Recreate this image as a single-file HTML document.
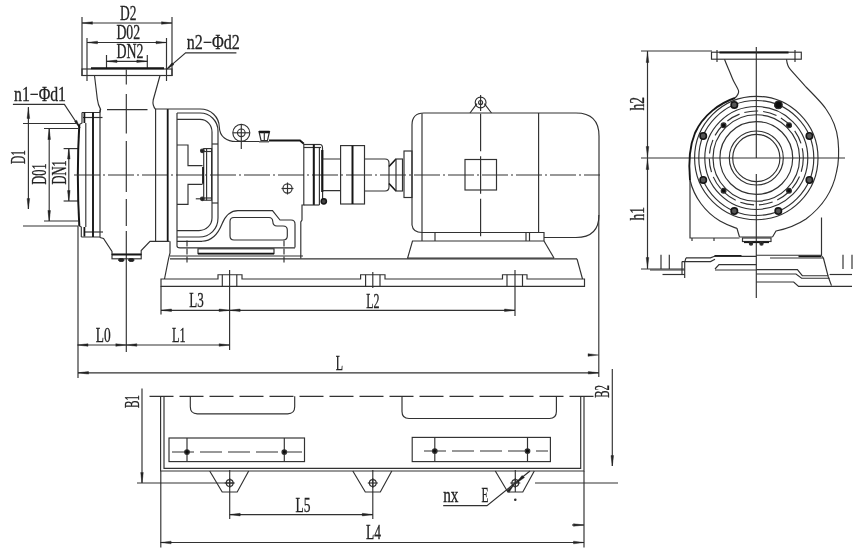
<!DOCTYPE html>
<html><head><meta charset="utf-8"><title>pump</title>
<style>
html,body{margin:0;padding:0;background:#fff;overflow:hidden}
svg{display:block;position:absolute;left:0;top:0}
svg line,svg path,svg rect,svg circle{stroke:#303030;fill:none;stroke-width:1.15}
svg .ar{fill:#222;stroke:#222;stroke-width:.4}
svg text{font-family:"Liberation Serif",serif;fill:#222;stroke:#222;stroke-width:.3}
</style></head><body>
<svg width="864" height="558" viewBox="0 0 864 558">
<defs><filter id="bl" x="0" y="0" width="864" height="558" filterUnits="userSpaceOnUse"><feGaussianBlur stdDeviation="0.45"/></filter></defs>
<rect x="0" y="0" width="864" height="558" style="fill:#fff;stroke:none"/>
<g filter="url(#bl)">
<g id="side">
<line x1="82" y1="17" x2="82" y2="76"/>
<line x1="172" y1="17" x2="172" y2="76"/>
<line x1="82" y1="23" x2="172" y2="23"/>
<polygon class="ar" points="82.0,23.0 92.5,21.7 92.5,24.3"/>
<polygon class="ar" points="172.0,23.0 161.5,21.7 161.5,24.3"/>
<line x1="87" y1="38" x2="87" y2="81"/>
<line x1="166.5" y1="38" x2="166.5" y2="81"/>
<line x1="87" y1="42.5" x2="166.5" y2="42.5"/>
<polygon class="ar" points="87.0,42.5 97.5,41.2 97.5,43.8"/>
<polygon class="ar" points="166.5,42.5 156.0,41.2 156.0,43.8"/>
<line x1="106.5" y1="55" x2="106.5" y2="68"/>
<line x1="147.3" y1="55" x2="147.3" y2="68"/>
<line x1="106.5" y1="61.3" x2="147.3" y2="61.3"/>
<polygon class="ar" points="106.5,61.3 117.0,60.0 117.0,62.6"/>
<polygon class="ar" points="147.3,61.3 136.8,60.0 136.8,62.6"/>
<path d="M236.4,52.8 H185.6 L166.5,69.4"/>
<polygon class="ar" points="166.5,69.4 172,62.8 174,64.6"/>
<rect x="82" y="69" width="90" height="6.5"/>
<line x1="91" y1="68.2" x2="164" y2="68.2" style="stroke-width:2;stroke:#151515"/>
<path d="M94.5,75.5 L97.3,99 Q98,105 100.6,109.4 L100,112.5"/>
<path d="M160,75.5 L153.2,100 Q152.2,105.5 155.6,109.3"/>
<line x1="107" y1="109.6" x2="147.5" y2="109.6" style="stroke-width:1.3"/>
<line x1="126.3" y1="69.4" x2="126.3" y2="84.5"/>
<line x1="126.3" y1="94" x2="126.3" y2="133.5"/>
<line x1="126.3" y1="141" x2="126.3" y2="192"/>
<line x1="126.3" y1="199" x2="126.3" y2="226"/>
<line x1="126.3" y1="231" x2="126.3" y2="352"/>
<path d="M12.9,104.4 H64.4 L80,128"/>
<polygon class="ar" points="80,128 74.5,121.5 76.7,120.2"/>
<line x1="28.4" y1="107" x2="28.4" y2="209"/>
<polygon class="ar" points="28.4,108.0 27.1,118.5 29.7,118.5"/>
<polygon class="ar" points="28.4,209.0 27.1,198.5 29.7,198.5"/>
<line x1="23" y1="123.5" x2="77" y2="123.5"/>
<line x1="23" y1="226" x2="78" y2="226"/>
<line x1="49.2" y1="129" x2="49.2" y2="221"/>
<polygon class="ar" points="49.2,129.0 47.9,139.5 50.5,139.5"/>
<polygon class="ar" points="49.2,221.0 47.9,210.5 50.5,210.5"/>
<line x1="44" y1="128.5" x2="78" y2="128.5"/>
<line x1="44" y1="221" x2="78" y2="221"/>
<line x1="68.8" y1="148.5" x2="68.8" y2="201"/>
<polygon class="ar" points="68.8,148.5 67.5,159.0 70.1,159.0"/>
<polygon class="ar" points="68.8,201.0 67.5,190.5 70.1,190.5"/>
<line x1="63.6" y1="148.6" x2="78" y2="148.6"/>
<line x1="63.6" y1="201" x2="78" y2="201"/>
<path d="M82,112.5 H100 M81.3,237 H100"/>
<path d="M82,112.5 V123 L79.3,124.4 M79.3,226 L81.3,227 V237"/>
<path d="M79.3,124.4 Q76.4,175 79.3,226" style="stroke-width:2;stroke:#151515"/>
<line x1="83" y1="117.5" x2="102.5" y2="117.5"/>
<line x1="85" y1="232" x2="103" y2="232"/>
<line x1="84.4" y1="112.5" x2="84.4" y2="123" style="stroke-width:1.8;stroke:#151515"/>
<line x1="84.4" y1="227" x2="84.4" y2="236.5" style="stroke-width:1.8;stroke:#151515"/>
<line x1="85.8" y1="123" x2="85.8" y2="227"/>
<line x1="93" y1="112.5" x2="93" y2="237" style="stroke-width:1.9;stroke:#151515"/>
<line x1="100" y1="109.5" x2="100" y2="237.5"/>
<line x1="74" y1="175" x2="600" y2="175" style="stroke-dasharray:26 3 2 3"/>
<path d="M100,237.5 L103.5,238.5 L112,251.5 V254.4 H141.2 V250.6 L150,241.3 H169.5"/>
<rect x="112" y="254.4" width="29.2" height="4.4"/>
<line x1="112" y1="254.6" x2="141.2" y2="254.6" style="stroke-width:1.8;stroke:#151515"/>
<ellipse cx="121.3" cy="260" rx="2.8" ry="1.5" style="fill:#222;stroke:#222"/>
<ellipse cx="131.3" cy="260" rx="2.8" ry="1.5" style="fill:#222;stroke:#222"/>
<line x1="155.6" y1="109" x2="155.6" y2="241.3"/>
<line x1="167.7" y1="109" x2="167.7" y2="241" style="stroke-width:1.8;stroke:#151515"/>
<line x1="78" y1="226" x2="78" y2="378"/>
</g>
<g id="frame">
<path d="M155.6,109 H200 C211,109 219,117 219.3,127 C219.6,137 227,141.5 236,141.5 H259"/>
<path d="M269,140.6 H300 L303.8,143.8" style="stroke-width:2;stroke:#151515"/>
<line x1="259" y1="141.8" x2="269" y2="141.8"/>
<circle cx="241.3" cy="132.8" r="8.5"/>
<circle cx="241.3" cy="132.8" r="3.8"/>
<line x1="241.3" y1="124" x2="241.3" y2="149"/>
<line x1="233" y1="132.8" x2="249.5" y2="132.8"/>
<path d="M259,131.5 H269.5 L267.5,140.5 H261 Z" style="stroke-width:1.2"/>
<line x1="259" y1="132" x2="269.5" y2="132" style="stroke-width:2.5;stroke:#151515"/>
<line x1="264.3" y1="132" x2="264.3" y2="140"/>
<line x1="177" y1="113" x2="177" y2="246"/>
<path d="M177,113 H200 C210,113 218,121 218,131 V218 C218,229 210,237 199,237 H177"/>
<path d="M177,119.4 H200 C207,119.4 212,125 212,132 V218 C212,225 206,230.6 199,230.6 H177"/>
<line x1="212" y1="144" x2="218" y2="144"/>
<line x1="212" y1="203" x2="218" y2="203"/>
<path d="M177,241.3 H202 C212,241 218,234 222,224 C226,214 231,210.6 238,210.6 H272.5 L280,220 H291 Q295,220 295,224 V247.5"/>
<path d="M234,217.5 H269 Q272.5,217.5 272.8,221.5 Q273,226 277,226 H283 Q287.3,226 287.3,230 V236 Q287.3,240 283,240 H234 Q230,240 230,236 V221.5 Q230,217.5 234,217.5 Z"/>
<path d="M177,246 Q177,247.8 180,247.8 H295"/>
<rect x="198" y="248.8" width="76" height="4.8"/>
<line x1="198" y1="253.6" x2="274" y2="253.6" style="stroke-width:1.8;stroke:#151515"/>
<line x1="187" y1="240.5" x2="187" y2="262.5" style="stroke-dasharray:6 2"/>
<line x1="284" y1="240.5" x2="284" y2="262.5" style="stroke-dasharray:6 2"/>
<path d="M177,145 H188 V165.6 H202.5 M177,204.4 H188 V184.4 H202.5"/>
<rect x="203.7" y="148.6" width="7.9" height="51.6"/>
<line x1="206.6" y1="148.6" x2="206.6" y2="200.2"/>
<line x1="203.7" y1="151.5" x2="211.6" y2="151.5"/>
<line x1="203.7" y1="198" x2="211.6" y2="198"/>
<line x1="203" y1="167" x2="203" y2="183.7" style="stroke-width:1.8;stroke:#151515"/>
<circle cx="202.3" cy="150.8" r="1.8" style="fill:#222"/>
<circle cx="202.3" cy="198.8" r="1.8" style="fill:#222"/>
<line x1="195.8" y1="198.8" x2="202" y2="198.8"/>
<path d="M303.8,143.8 V205 H302 V220 L300.8,222 V258.5"/>
<circle cx="287.5" cy="188.5" r="4.6"/>
<line x1="281.5" y1="188.5" x2="293.5" y2="188.5"/>
<line x1="287.5" y1="182.5" x2="287.5" y2="194.5"/>
<line x1="303.8" y1="144.5" x2="320" y2="144.5"/>
<line x1="303.8" y1="147.5" x2="321" y2="147.5"/>
<path d="M320,144.5 Q322.5,144.5 322.5,148 V159"/>
<line x1="313.8" y1="144.5" x2="313.8" y2="205" style="stroke-width:2;stroke:#151515"/>
<line x1="319.4" y1="147.5" x2="319.4" y2="205"/>
<line x1="322.3" y1="150" x2="322.3" y2="192" style="stroke-width:2.2;stroke:#151515"/>
<line x1="322.6" y1="192" x2="322.6" y2="199"/>
<line x1="303.8" y1="205" x2="319.4" y2="205"/>
<circle cx="323.8" cy="201.3" r="2.6" style="stroke-width:1.5;fill:#444;stroke:#151515"/>
<path d="M322.5,159 H340.6 M322.5,190.6 H340.6"/>
<rect x="340.6" y="145.6" width="23.9" height="58.4"/>
<line x1="352.5" y1="145.6" x2="352.5" y2="204" style="stroke-width:2;stroke:#151515"/>
<path d="M364.5,159 H385 Q389,159 389,163 V187 Q389,191 385,191 H364.5"/>
<path d="M389,166.5 L396,159 M389,183.5 L396,191" style="stroke-width:1.6;stroke:#151515"/>
<rect x="396" y="159" width="6.5" height="32"/>
<rect x="404" y="151" width="8" height="46.5"/>
</g>
<g id="motor">
<path d="M412,225 V125 Q412,113 424,113 H576 Q599,113 599,136 V215 Q599,237.5 576,237.5 H544"/>
<line x1="422" y1="113.5" x2="422" y2="232.5"/>
<line x1="538.6" y1="113" x2="538.6" y2="232.5"/>
<circle cx="480.6" cy="102.5" r="5.4"/>
<circle cx="480.6" cy="102.5" r="2"/>
<path d="M470,113 L477,103.6 M491.5,113 L484.3,103.6"/>
<line x1="480.6" y1="95" x2="480.6" y2="111"/>
<line x1="480.6" y1="113.8" x2="480.6" y2="240" style="stroke-dasharray:37.5 5"/>
<rect x="465" y="159.5" width="31.5" height="30.5"/>
<path d="M412,225 Q413,232.5 422,232.5 H544 V241"/>
<line x1="422" y1="241" x2="544" y2="241"/>
<line x1="526" y1="232.5" x2="526" y2="241"/>
<line x1="529.5" y1="232.5" x2="529.5" y2="241"/>
<line x1="435" y1="232.5" x2="435" y2="241"/>
<path d="M422,232.5 V241"/>
<path d="M544,241 L554,258"/>
<path d="M422,241 H412.5 L407.5,258.5"/>
</g>
<g id="base">
<line x1="170" y1="256" x2="303" y2="256"/>
<line x1="170" y1="258.8" x2="577" y2="258.8"/>
<line x1="407.5" y1="258" x2="554" y2="258"/>
<path d="M170,241.3 V253 L168.5,258.8 L164.5,279"/>
<path d="M577,258.8 L582.5,279"/>
<path d="M161,279 H218 V274.7 H242 V279 H360.6 V274.7 H385 V279 H502.5 V274.7 H527 V279 H584.5 V286.3 H161 Z"/>
<line x1="222.3" y1="274.7" x2="222.3" y2="286.3"/>
<line x1="236.8" y1="274.7" x2="236.8" y2="286.3"/>
<line x1="365.6" y1="274.7" x2="365.6" y2="286.3"/>
<line x1="380" y1="274.7" x2="380" y2="286.3"/>
<line x1="507" y1="274.7" x2="507" y2="286.3"/>
<line x1="522.5" y1="274.7" x2="522.5" y2="286.3"/>
<line x1="372.8" y1="272" x2="372.8" y2="288"/>
<line x1="161" y1="286.3" x2="161" y2="314.6"/>
<line x1="229.6" y1="270" x2="229.6" y2="350"/>
<line x1="515" y1="270" x2="515" y2="316"/>
<line x1="161" y1="310.3" x2="515" y2="310.3"/>
<polygon class="ar" points="161.0,310.3 171.5,309.0 171.5,311.6"/>
<polygon class="ar" points="229.6,310.3 219.1,309.0 219.1,311.6"/>
<polygon class="ar" points="229.6,310.3 240.1,309.0 240.1,311.6"/>
<polygon class="ar" points="515.0,310.3 504.5,309.0 504.5,311.6"/>
<line x1="77.5" y1="345" x2="229.6" y2="345"/>
<polygon class="ar" points="77.5,345.0 88.0,343.7 88.0,346.3"/>
<polygon class="ar" points="126.3,345.0 115.8,343.7 115.8,346.3"/>
<polygon class="ar" points="126.3,345.0 136.8,343.7 136.8,346.3"/>
<polygon class="ar" points="229.6,345.0 219.1,343.7 219.1,346.3"/>
<line x1="598.8" y1="215" x2="598.8" y2="377"/>
<polygon class="ar" points="598.5,355.0 588.0,353.7 588.0,356.3"/>
<line x1="78" y1="372.8" x2="598.8" y2="372.8"/>
<polygon class="ar" points="78.0,372.8 88.5,371.5 88.5,374.1"/>
<polygon class="ar" points="598.8,372.8 588.3,371.5 588.3,374.1"/>
</g>
<g id="hd">
<line x1="647.5" y1="51" x2="647.5" y2="269"/>
<line x1="641" y1="51" x2="712" y2="51"/>
<line x1="641" y1="158" x2="845" y2="158"/>
<line x1="641" y1="269" x2="684" y2="269"/>
<polygon class="ar" points="647.5,52.0 646.2,62.5 648.8,62.5"/>
<polygon class="ar" points="647.5,157.0 646.2,146.5 648.8,146.5"/>
<polygon class="ar" points="647.5,159.0 646.2,169.5 648.8,169.5"/>
<polygon class="ar" points="647.5,268.0 646.2,257.5 648.8,257.5"/>
</g>
<g id="end">
<rect x="711.5" y="52.2" width="89.8" height="7.0"/>
<line x1="719.5" y1="52.5" x2="788.5" y2="52.5" style="stroke-width:2;stroke:#151515"/>
<line x1="717" y1="50" x2="717" y2="62"/>
<line x1="795" y1="50" x2="795" y2="62"/>
<line x1="756.3" y1="47" x2="756.3" y2="158"/>
<line x1="756.3" y1="174" x2="756.3" y2="298"/>
<path d="M724.5,59.2 C727,66 730,72 732,77.5 C734,83 738,88 738.6,91 C739,94 737,96 735,98"/>
<path d="M786.5,59.2 C787,64 788,67 790.5,69.6 C796,76 801,81 806,87 C815,96 822,103 826,109 C833,119 837,130 838,140 C839,150 839,162 836.5,172 C833,190 822,207 806,219 C797,225 786,229 776,231 L772.5,237"/>
<path d="M735,98 C720,103 703,115 695,133 C690,145 688,158 690,180" style="stroke-width:1.9;stroke:#151515"/>
<path d="M690,180 C694,197 705,212 720,221 C727,225 733,227 737,228.5 L739.5,237"/>
<path d="M690,180 V238 H739.5"/>
<line x1="739.5" y1="237" x2="772.5" y2="237"/>
<circle cx="756.3" cy="158" r="61.7"/>
<circle cx="756.3" cy="158" r="57.5"/>
<circle cx="756.3" cy="158" r="51.5"/>
<circle cx="756.3" cy="158" r="43.3"/>
<circle cx="756.3" cy="158" r="36.4"/>
<circle cx="756.3" cy="158" r="27"/>
<circle cx="756.3" cy="158" r="23.6"/>
<circle cx="756.3" cy="158" r="47" style="stroke-dasharray:14 5"/>
<circle cx="778.3" cy="104.9" r="3.2" style="stroke-width:1.6;fill:#555;stroke:#151515"/>
<circle cx="809.4" cy="136.0" r="3.2" style="stroke-width:1.6;fill:#555;stroke:#151515"/>
<circle cx="809.4" cy="180.0" r="3.2" style="stroke-width:1.6;fill:#555;stroke:#151515"/>
<circle cx="778.3" cy="211.1" r="3.2" style="stroke-width:1.6;fill:#555;stroke:#151515"/>
<circle cx="734.3" cy="211.1" r="3.2" style="stroke-width:1.6;fill:#555;stroke:#151515"/>
<circle cx="703.2" cy="180.0" r="3.2" style="stroke-width:1.6;fill:#555;stroke:#151515"/>
<circle cx="703.2" cy="136.0" r="3.2" style="stroke-width:1.6;fill:#555;stroke:#151515"/>
<circle cx="734.3" cy="104.9" r="3.2" style="stroke-width:1.6;fill:#555;stroke:#151515"/>
<circle cx="789.0" cy="125.3" r="2.4" style="fill:#111"/>
<circle cx="789.0" cy="190.7" r="2.4" style="fill:#111"/>
<circle cx="723.6" cy="190.7" r="2.4" style="fill:#111"/>
<circle cx="723.6" cy="125.3" r="2.4" style="fill:#111"/>
<circle cx="778.4" cy="104.8" r="3.8" style="fill:#111"/>
<rect x="742.5" y="238" width="28.5" height="3.5"/>
<line x1="744" y1="242.3" x2="769" y2="242.3" style="stroke-width:1.6;stroke:#151515"/>
<circle cx="751" cy="243.5" r="1.6" style="stroke-width:1.2;fill:#222"/>
<circle cx="761.5" cy="243.5" r="1.6" style="stroke-width:1.2;fill:#222"/>
<line x1="692" y1="238" x2="692" y2="241"/>
<line x1="714" y1="238" x2="714" y2="241"/>
<line x1="821.5" y1="217.5" x2="821.5" y2="255"/>
<line x1="714.5" y1="255.8" x2="741.5" y2="255.8" style="stroke-width:1.6;stroke:#151515"/>
<path d="M686,257.8 H710.5 L714.5,256.3 H756.3"/>
<path d="M682,261.6 H710.5 L715,259.3"/>
<path d="M686,257.8 L684.7,262 V278 M682,261.6 V275"/>
<path d="M715,269 L719,264.6 H756.3"/>
<line x1="650" y1="270" x2="684.7" y2="270"/>
<line x1="715" y1="270" x2="756.3" y2="270"/>
<line x1="662.5" y1="274.5" x2="684.7" y2="274.5"/>
<line x1="661" y1="254.7" x2="661" y2="269"/>
<line x1="669.3" y1="254.7" x2="669.3" y2="269"/>
<line x1="843" y1="254.7" x2="843" y2="269"/>
<line x1="852" y1="254.7" x2="852" y2="269"/>
<line x1="756.3" y1="255.2" x2="821" y2="255.2"/>
<line x1="798.5" y1="256.4" x2="821" y2="256.4" style="stroke-width:1.6;stroke:#151515"/>
<line x1="770" y1="258" x2="823.4" y2="258"/>
<path d="M823.4,258 L828.3,277 L831.5,285.6"/>
<path d="M821,255.2 L823.4,258"/>
<path d="M756.3,269.6 H797.4 L802.3,275.7 H828.3"/>
<path d="M756.3,274 H796 L801.6,278.2 H829.6"/>
<line x1="829.6" y1="274.5" x2="852" y2="274.5"/>
<path d="M756.3,282 H793.7 L798.6,286.4 H852"/>
</g>
<g id="plan">
<line x1="149.5" y1="396.4" x2="595" y2="396.4" style="stroke-dasharray:24 6"/>
<path d="M160.6,396.3 V471 H584 V396.3"/>
<path d="M164,396.3 V468.4 H580.7 V396.3"/>
<path d="M190.3,396.3 V406.8 Q190.3,413.8 197.3,413.8 H287.7 Q294.7,413.8 294.7,406.8 V396.3"/>
<path d="M402,396.3 V411.5 Q402,418.5 409,418.5 H549.4 Q556.4,418.5 556.4,411.5 V396.3"/>
<rect x="169" y="438" width="135.5" height="23.6"/>
<line x1="172" y1="452" x2="302" y2="452" style="stroke-dasharray:22 6"/>
<line x1="187" y1="438" x2="187" y2="461.6"/>
<line x1="284.3" y1="438" x2="284.3" y2="461.6"/>
<circle cx="187" cy="452" r="2.3" style="fill:#111"/>
<circle cx="284.3" cy="452" r="2.3" style="fill:#111"/>
<rect x="412.2" y="437.4" width="138.2" height="24.2"/>
<line x1="424" y1="451" x2="548" y2="451" style="stroke-dasharray:22 6"/>
<line x1="434.8" y1="437.4" x2="434.8" y2="461.6"/>
<line x1="527.5" y1="437.4" x2="527.5" y2="461.6"/>
<circle cx="434.8" cy="451" r="2.3" style="fill:#111"/>
<circle cx="527.5" cy="451" r="2.3" style="fill:#111"/>
<path d="M209.7,471 L222.2,492 H237.2 L248.7,471"/>
<circle cx="229.7" cy="483" r="3.4"/>
<line x1="224.7" y1="483" x2="234.7" y2="483"/>
<line x1="229.7" y1="478" x2="229.7" y2="488"/>
<path d="M352.8,471 L365.3,492 H380.3 L391.8,471"/>
<circle cx="372.8" cy="483" r="3.4"/>
<line x1="367.8" y1="483" x2="377.8" y2="483"/>
<line x1="372.8" y1="478" x2="372.8" y2="488"/>
<path d="M495.29999999999995,471 L507.79999999999995,492 H522.8 L534.3,471"/>
<circle cx="515.3" cy="483" r="3.4"/>
<line x1="510.29999999999995" y1="483" x2="520.3" y2="483"/>
<line x1="515.3" y1="478" x2="515.3" y2="488"/>
<line x1="142" y1="388.5" x2="142" y2="483"/>
<polygon class="ar" points="142.0,483.0 140.7,472.5 143.3,472.5"/>
<line x1="137" y1="483" x2="234" y2="483"/>
<line x1="612.3" y1="369" x2="612.3" y2="466"/>
<polygon class="ar" points="612.3,466.0 611.0,455.5 613.6,455.5"/>
<line x1="535" y1="483" x2="618" y2="483"/>
<line x1="229.7" y1="470" x2="229.7" y2="519"/>
<line x1="372.8" y1="470" x2="372.8" y2="519"/>
<line x1="515.3" y1="470" x2="515.3" y2="492"/>
<line x1="229.7" y1="514.6" x2="372.8" y2="514.6"/>
<polygon class="ar" points="229.7,514.6 240.2,513.3 240.2,515.9"/>
<polygon class="ar" points="372.8,514.6 362.3,513.3 362.3,515.9"/>
<line x1="160.8" y1="471" x2="160.8" y2="547.5"/>
<line x1="584" y1="471" x2="584" y2="547.5"/>
<line x1="160.6" y1="542.5" x2="584" y2="542.5"/>
<polygon class="ar" points="160.6,542.5 171.1,541.2 171.1,543.8"/>
<polygon class="ar" points="584.0,542.5 573.5,541.2 573.5,543.8"/>
<polygon class="ar" points="584.0,525.0 573.5,523.7 573.5,526.3"/>
<line x1="572" y1="525" x2="584" y2="525"/>
<path d="M443.2,505.6 H487 L530,471"/>
<polygon class="ar" points="516,483.5 522,475.5 524.5,477.5"/>
<polygon class="ar" points="514.5,484 507,490.5 509,492.5"/>
<circle cx="515.3" cy="499.7" r="0.7" style="fill:#222"/>
</g>
<g id="txt">
<text x="120" y="19.8" font-size="20" textLength="16.4" lengthAdjust="spacingAndGlyphs">D2</text>
<text x="116.4" y="38.9" font-size="20" textLength="23.8" lengthAdjust="spacingAndGlyphs">D02</text>
<text x="116.4" y="58" font-size="20" textLength="27" lengthAdjust="spacingAndGlyphs">DN2</text>
<text x="186.8" y="49.4" font-size="20" textLength="53" lengthAdjust="spacingAndGlyphs">n2−Φd2</text>
<text x="14" y="100.7" font-size="20" textLength="52" lengthAdjust="spacingAndGlyphs">n1−Φd1</text>
<text x="25.4" y="164" font-size="20" textLength="14" lengthAdjust="spacingAndGlyphs" transform="rotate(-90 25.4 164)">D1</text>
<text x="45.9" y="184.5" font-size="20" textLength="21" lengthAdjust="spacingAndGlyphs" transform="rotate(-90 45.9 184.5)">D01</text>
<text x="66.3" y="184.5" font-size="20" textLength="24.2" lengthAdjust="spacingAndGlyphs" transform="rotate(-90 66.3 184.5)">DN1</text>
<text x="189.3" y="306.9" font-size="20" textLength="14.4" lengthAdjust="spacingAndGlyphs">L3</text>
<text x="366.3" y="308" font-size="20" textLength="13.3" lengthAdjust="spacingAndGlyphs">L2</text>
<text x="95.7" y="341.5" font-size="20" textLength="14.9" lengthAdjust="spacingAndGlyphs">L0</text>
<text x="172" y="341.5" font-size="20" textLength="13.6" lengthAdjust="spacingAndGlyphs">L1</text>
<text x="335.7" y="369.6" font-size="20" textLength="7.3" lengthAdjust="spacingAndGlyphs">L</text>
<text x="295.4" y="511.5" font-size="20" textLength="15" lengthAdjust="spacingAndGlyphs">L5</text>
<text x="366" y="538.5" font-size="20" textLength="15" lengthAdjust="spacingAndGlyphs">L4</text>
<text x="138.7" y="408.1" font-size="20" textLength="13" lengthAdjust="spacingAndGlyphs" transform="rotate(-90 138.7 408.1)">B1</text>
<text x="609" y="397.7" font-size="20" textLength="12.6" lengthAdjust="spacingAndGlyphs" transform="rotate(-90 609 397.7)">B2</text>
<text x="644.2" y="110.4" font-size="20" textLength="13.4" lengthAdjust="spacingAndGlyphs" transform="rotate(-90 644.2 110.4)">h2</text>
<text x="644.4" y="220.4" font-size="20" textLength="13.4" lengthAdjust="spacingAndGlyphs" transform="rotate(-90 644.4 220.4)">h1</text>
<text x="443.2" y="502.4" font-size="20" textLength="15.3" lengthAdjust="spacingAndGlyphs">nx</text>
<text x="481.4" y="502.4" font-size="20" textLength="7" lengthAdjust="spacingAndGlyphs">E</text>
</g>
</g>
</svg>
</body></html>
